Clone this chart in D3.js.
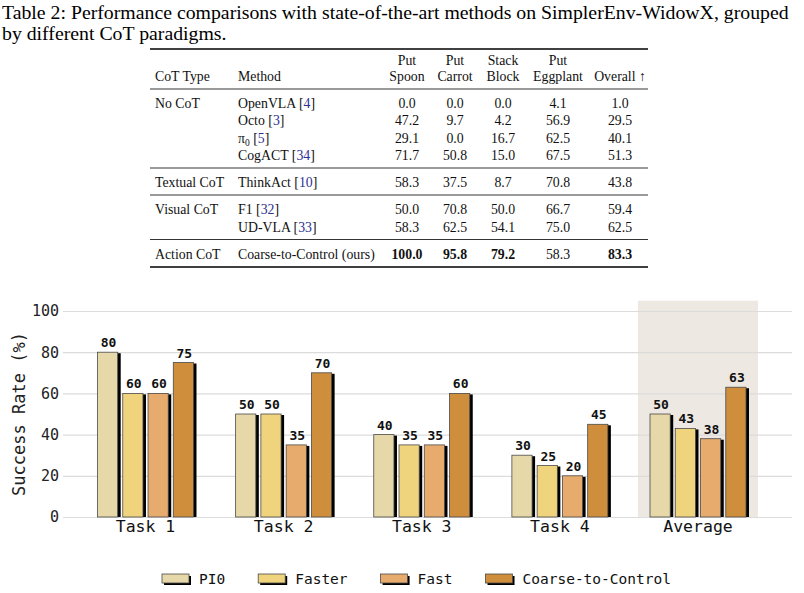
<!DOCTYPE html>
<html>
<head>
<meta charset="utf-8">
<script src="https://cdn.jsdelivr.net/npm/d3@7"></script>
<style>
    body { margin: 0; background: #fff; }
    svg { display: block; }
</style>
</head>
<body>
<svg id="fig" width="804" height="593"></svg>
<script>
// ---- table data ----
const captionLines = [
    "Table 2: Performance comparisons with state-of-the-art methods on SimplerEnv-WidowX, grouped",
    "by different CoT paradigms."
]
const tableCols = [["Put", "Spoon"], ["Put", "Carrot"], ["Stack", "Block"], ["Put", "Eggplant"], ["", "Overall ↑"]]
const cotTypes = ["No CoT", "", "", "", "Textual CoT", "Visual CoT", "", "Action CoT"]
const methodNames = ["OpenVLA", "Octo", "π0", "CogACT", "ThinkAct", "F1", "UD-VLA", "Coarse-to-Control (ours)"]
const methodRefs = ["4", "3", "5", "34", "10", "32", "33", ""]
const tableValues = [
    ["0.0", "0.0", "0.0", "4.1", "1.0"],
    ["47.2", "9.7", "4.2", "56.9", "29.5"],
    ["29.1", "0.0", "16.7", "62.5", "40.1"],
    ["71.7", "50.8", "15.0", "67.5", "51.3"],
    ["58.3", "37.5", "8.7", "70.8", "43.8"],
    ["50.0", "70.8", "50.0", "66.7", "59.4"],
    ["58.3", "62.5", "54.1", "75.0", "62.5"],
    ["100.0", "95.8", "79.2", "58.3", "83.3"]
]
const boldLastRow = [true, true, true, false, true]
const groupEnds = [3, 4, 6]

// ---- chart data ----
const tasks = ["Task 1", "Task 2", "Task 3", "Task 4", "Average"]
const methods = ["PI0", "Faster", "Fast", "Coarse-to-Control"]
const pi0Vals = [80, 50, 40, 30, 50]
const fasterVals = [60, 50, 35, 25, 43]
const fastVals = [60, 35, 35, 20, 38]
const c2cVals = [75, 70, 60, 45, 63]
const yTicks = [0, 20, 40, 60, 80, 100]
const barColors = ["#e6d8a9", "#efd47d", "#e8ab6e", "#cf8e3b"]

const SERIF = "'Liberation Serif', 'Times New Roman', serif"
const MONO = "'DejaVu Sans Mono', monospace"
const LINK = "#2e3192"

const svg = d3.select("#fig")

// caption, stretched a bit to the width of the page like the original
const cap = svg.append("g")
cap.selectAll("text")
    .data(captionLines)
    .enter()
    .append("text")
    .attr("x", 0)
    .attr("y", (d, i) => 19 + i * 21)
    .style("font-family", SERIF)
    .style("font-size", "18px")
    .text(d => d)
const capW = cap.select("text").node().getComputedTextLength()
cap.attr("transform", `translate(2,0) scale(${787 / capW},1)`)

drawTable()
drawChart()

function drawTable() {
    const tbl = svg.append("g")
    const X0 = 150, X1 = 648
    const colX = [407, 455, 503, 558, 620]

    function rule(y, w) {
        tbl.append("line")
            .attr("x1", X0).attr("x2", X1)
            .attr("y1", y).attr("y2", y)
            .attr("stroke", "#000")
            .attr("stroke-width", w)
    }

    const txt = (x, y, anchor) => tbl.append("text")
        .attr("x", x).attr("y", y)
        .attr("text-anchor", anchor)
        .style("font-family", SERIF)
        .style("font-size", "13.8px")
        .style("fill", "#111")

    rule(49, 1.4)
    txt(155, 81, "start").text("CoT Type")
    txt(238, 81, "start").text("Method")
    tableCols.forEach(function (c, i) {
        txt(colX[i], 65, "middle").text(c[0])
        txt(colX[i], 81, "middle").text(c[1])
    })
    rule(89, 0.8)

    let y = 103
    methodNames.forEach(function (m, r) {
        const base = y + 4.5
        txt(155, base, "start").text(cotTypes[r])
        const t = txt(238, base, "start")
        if (m === "π0") {
            t.append("tspan").text("π")
            t.append("tspan").attr("dy", 3).style("font-size", "9.5px").text("0")
            t.append("tspan").attr("dy", -3).text(" [")
        } else {
            t.append("tspan").text(methodRefs[r] ? m + " [" : m)
        }
        if (methodRefs[r]) {
            t.append("tspan").style("fill", LINK).text(methodRefs[r])
            t.append("tspan").text("]")
        }
        tableValues[r].forEach(function (v, j) {
            const isBold = r === methodNames.length - 1 && boldLastRow[j]
            txt(colX[j], base, "middle")
                .style("font-weight", isBold ? "bold" : "normal")
                .text(v)
        })
        if (groupEnds.includes(r)) {
            rule(y + 12.5, 0.8)
            y += 27
        } else {
            y += 17.5
        }
    })
    rule(y - 17.5 + 13, 1.4)
}

function drawChart() {
    const yScale = d3.scaleLinear().domain([0, 100]).range([517, 311])
    const xScale = d3.scaleBand().domain(tasks).range([76.5, 767])
        .paddingInner(0.131).paddingOuter(0.065)
    const xSub = d3.scaleBand().domain(methods).range([0, 96]).paddingInner(0.2)
    const color = d3.scaleOrdinal().domain(methods).range(barColors)
    const series = [pi0Vals, fasterVals, fastVals, c2cVals]

    // highlight for the average group
    svg.append("rect")
        .attr("x", xScale("Average"))
        .attr("y", yScale(105))
        .attr("width", xScale.bandwidth())
        .attr("height", yScale(0) - yScale(105))
        .style("fill", "#ede8e1")

    // grid + y labels
    svg.append("g")
        .attr("transform", "translate(63,0)")
        .call(d3.axisLeft(yScale).tickValues(yTicks).tickSize(-729).tickPadding(4))
        .call(g => g.select(".domain").remove())
        .call(g => g.selectAll(".tick line").attr("stroke", "#dcdcdc").attr("stroke-width", 1.2))
        .call(g => g.selectAll(".tick text")
            .style("font-family", MONO).style("font-size", "15px").style("fill", "#222"))

    svg.append("text")
        .attr("transform", `translate(25, ${yScale(50)}) rotate(-90)`)
        .attr("text-anchor", "middle")
        .style("font-family", MONO)
        .style("font-size", "17px")
        .style("fill", "#222")
        .text("Success Rate (%)")

    // task labels
    svg.append("g")
        .attr("transform", `translate(0, ${yScale(0)})`)
        .call(d3.axisBottom(xScale).tickSize(0).tickPadding(3))
        .call(g => g.select(".domain").remove())
        .call(g => g.selectAll(".tick text")
            .style("font-family", MONO).style("font-size", "16.5px").style("fill", "#111"))

    // bars
    series.forEach(function (vals, s) {
        const m = methods[s]
        const grp = svg.append("g")
        const bx = (d, i) => xScale(tasks[i]) + xScale.bandwidth() / 2 - 48 + xSub(m)

        grp.selectAll(".shadow")
            .data(vals)
            .enter()
            .append("rect")
            .attr("x", (d, i) => bx(d, i) + 3)
            .attr("y", d => yScale(d) + 1)
            .attr("width", xSub.bandwidth())
            .attr("height", d => yScale(0) - yScale(d) - 1)
            .style("fill", "#000")

        grp.selectAll(".bar")
            .data(vals)
            .enter()
            .append("rect")
            .attr("x", bx)
            .attr("y", d => yScale(d))
            .attr("width", xSub.bandwidth())
            .attr("height", d => yScale(0) - yScale(d))
            .style("fill", color(m))
            .style("stroke", "#4a4a4a")
            .style("stroke-width", 0.8)

        grp.selectAll(".lbl")
            .data(vals)
            .enter()
            .append("text")
            .attr("x", (d, i) => bx(d, i) + xSub.bandwidth() / 2 + 1)
            .attr("y", d => yScale(d) - 5)
            .attr("text-anchor", "middle")
            .style("font-family", MONO)
            .style("font-size", "13px")
            .style("font-weight", "bold")
            .style("fill", "#111")
            .text(d => d)
    })

    // legend
    let lx = 162
    const ly = 579
    methods.forEach(function (m) {
        svg.append("rect")
            .attr("x", lx + 2).attr("y", ly - 3)
            .attr("width", 27).attr("height", 9)
            .style("fill", "#000")
        svg.append("rect")
            .attr("x", lx).attr("y", ly - 5)
            .attr("width", 27).attr("height", 9)
            .style("fill", color(m))
            .style("stroke", "#4a4a4a")
            .style("stroke-width", 0.8)
        const t = svg.append("text")
            .attr("x", lx + 37).attr("y", ly + 5)
            .style("font-family", MONO)
            .style("font-size", "14.5px")
            .style("fill", "#111")
            .text(m)
        lx += 37 + t.node().getComputedTextLength() + 33
    })
}
</script>
</body>
</html>
